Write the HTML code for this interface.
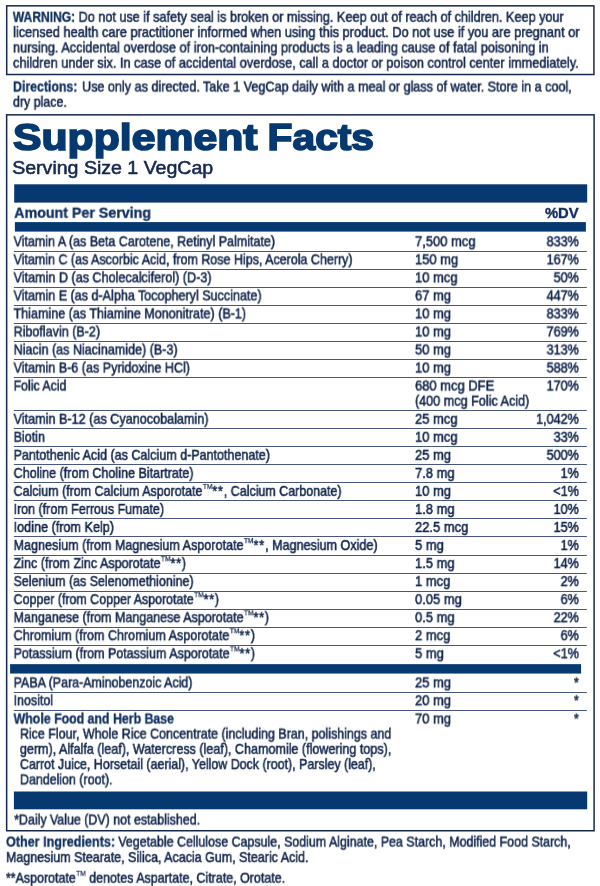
<!DOCTYPE html><html><head><meta charset='utf-8'><style>
html,body{margin:0;padding:0;background:#fff;}
body{width:600px;height:886px;position:relative;overflow:hidden;font-family:"Liberation Sans", sans-serif;color:#14284e;}
.l{position:absolute;white-space:nowrap;transform-origin:0 0;line-height:20px;will-change:transform;-webkit-text-stroke:0.55px currentColor;}
.l b{font-weight:700;}
.g{display:inline-block;width:0.3px;}
.a{letter-spacing:0.9px;}
.tm{-webkit-text-stroke:0.25px currentColor;font-size:7.6px;display:inline-block;vertical-align:top;line-height:12px;letter-spacing:0;margin-left:0.5px;}
.box{position:absolute;border:1.4px solid #14284e;box-sizing:border-box;}
.bar{position:absolute;background:#06396f;}
.rule{position:absolute;height:1px;background:#6b7ba0;left:14px;width:569px;}
</style></head><body><svg width="600" height="886" viewBox="0 0 600 886" style="position:absolute;left:0;top:0">
<rect x="6.7" y="5.85" width="587.20" height="68.65" fill="none" stroke="#14284e" stroke-width="1.5"/>
<rect x="6.65" y="114.85" width="587.45" height="715.90" fill="none" stroke="#14284e" stroke-width="1.5"/>
<rect x="14.2" y="184.3" width="573.00" height="18.30" fill="#06396f"/>
<rect x="14.9" y="222.1" width="571.00" height="9.50" fill="#06396f"/>
<rect x="10.1" y="664.15" width="571.00" height="9.40" fill="#06396f"/>
<rect x="13.9" y="791.5" width="573.30" height="17.80" fill="#06396f"/>
<rect x="13.9" y="251" width="572.9" height="1" fill="#47577f"/>
<rect x="13.9" y="269" width="572.9" height="1" fill="#47577f"/>
<rect x="13.9" y="287" width="572.9" height="1" fill="#47577f"/>
<rect x="13.9" y="305" width="572.9" height="1" fill="#47577f"/>
<rect x="13.9" y="323" width="572.9" height="1" fill="#47577f"/>
<rect x="13.9" y="341" width="572.9" height="1" fill="#47577f"/>
<rect x="13.9" y="359" width="572.9" height="1" fill="#47577f"/>
<rect x="13.9" y="377" width="572.9" height="1" fill="#47577f"/>
<rect x="13.9" y="410" width="572.9" height="1" fill="#47577f"/>
<rect x="13.9" y="428" width="572.9" height="1" fill="#47577f"/>
<rect x="13.9" y="446" width="572.9" height="1" fill="#47577f"/>
<rect x="13.9" y="464" width="572.9" height="1" fill="#47577f"/>
<rect x="13.9" y="482" width="572.9" height="1" fill="#47577f"/>
<rect x="13.9" y="500" width="572.9" height="1" fill="#47577f"/>
<rect x="13.9" y="518" width="572.9" height="1" fill="#47577f"/>
<rect x="13.9" y="536" width="572.9" height="1" fill="#47577f"/>
<rect x="13.9" y="555" width="572.9" height="1" fill="#47577f"/>
<rect x="13.9" y="573" width="572.9" height="1" fill="#47577f"/>
<rect x="13.9" y="591" width="572.9" height="1" fill="#47577f"/>
<rect x="13.9" y="609" width="572.9" height="1" fill="#47577f"/>
<rect x="13.9" y="627" width="572.9" height="1" fill="#47577f"/>
<rect x="13.9" y="645" width="572.9" height="1" fill="#47577f"/>
<rect x="13.9" y="692" width="572.9" height="1" fill="#47577f"/>
<rect x="13.9" y="710" width="572.9" height="1" fill="#47577f"/>
</svg>
<div class="l" style="font-size:14.4px;font-weight:700;color:#10305f;top:6px;left:12px;transform:translate(0.80px,0.81px) scaleX(0.8393);-webkit-text-stroke:0.35px #10305f;">WARNING:</div>
<div class="l" style="font-size:14.4px;font-weight:400;color:#14284e;top:6px;left:78px;transform:translate(0.50px,0.81px) scaleX(0.8804);">Do not use if safety seal is broken or missing. Keep out of reach of children. Keep your</div>
<div class="l" style="font-size:14.4px;font-weight:400;color:#14284e;top:22px;left:13px;transform:translate(0.00px,0.11px) scaleX(0.8897);">licensed health care practitioner informed when using this product. Do not use if you are pregnant or</div>
<div class="l" style="font-size:14.4px;font-weight:400;color:#14284e;top:37px;left:13px;transform:translate(0.00px,0.41px) scaleX(0.8858);">nursing. Accidental overdose of iron-containing products is a leading cause of fatal poisoning in</div>
<div class="l" style="font-size:14.4px;font-weight:400;color:#14284e;top:52px;left:13px;transform:translate(0.00px,0.71px) scaleX(0.8856);">children under six. In case of accidental overdose, call a doctor or poison control center immediately.</div>
<div class="l" style="font-size:14.4px;font-weight:700;color:#10305f;top:76px;left:13px;transform:translate(0.00px,0.51px) scaleX(0.8580);-webkit-text-stroke:0.35px #10305f;">Directions:</div>
<div class="l" style="font-size:14.4px;font-weight:400;color:#14284e;top:76px;left:82px;transform:translate(0.00px,0.51px) scaleX(0.8763);">Use only as directed. Take 1 VegCap daily with a meal or glass of water. Store in a cool,</div>
<div class="l" style="font-size:14.4px;font-weight:400;color:#14284e;top:91px;left:13px;transform:translate(0.00px,0.71px) scaleX(0.8607);">dry place.</div>
<div class="l" style="font-size:37.6px;font-weight:700;color:#06396f;top:127px;left:13px;transform:translate(0.00px,0.37px) scaleX(1.1370);-webkit-text-stroke:1.7px #06396f;">Supplement</div>
<div class="l" style="font-size:37.6px;font-weight:700;color:#06396f;top:127px;left:267px;transform:translate(0.60px,0.37px) scaleX(1.0838);-webkit-text-stroke:1.7px #06396f;">Facts</div>
<div class="l" style="font-size:18.3px;font-weight:400;color:#14284e;top:158px;left:12px;transform:translate(0.20px,0.46px) scaleX(1.0691);">Serving Size 1 VegCap</div>
<div class="l" style="font-size:14.4px;font-weight:700;color:#10305f;top:202px;left:14px;transform:translate(0.20px,0.71px) scaleX(0.9888);-webkit-text-stroke:0.35px #10305f;">Amount Per Serving</div>
<div class="l" style="font-size:14.4px;font-weight:700;color:#10305f;top:202px;left:544px;transform:translate(0.95px,0.71px) scaleX(1.0291);-webkit-text-stroke:0.35px #10305f;">%DV</div>
<div class="l" style="font-size:14.4px;font-weight:400;color:#14284e;top:231px;left:13px;transform:translate(0.60px,0.31px) scaleX(0.8676);">Vitamin A (as Beta Carotene, Retinyl Palmitate)</div>
<div class="l" style="font-size:14.4px;font-weight:400;color:#14284e;top:231px;left:415px;transform:translate(0.00px,0.31px) scaleX(0.9000);">7,500 mcg</div>
<div class="l" style="font-size:14.4px;font-weight:400;color:#14284e;top:231px;left:546px;transform:translate(0.59px,0.31px) scaleX(0.8750);">833%</div>
<div class="l" style="font-size:14.4px;font-weight:400;color:#14284e;top:249px;left:13px;transform:translate(0.60px,0.34px) scaleX(0.8672);">Vitamin C (as Ascorbic Acid, from Rose Hips, Acerola Cherry)</div>
<div class="l" style="font-size:14.4px;font-weight:400;color:#14284e;top:249px;left:415px;transform:translate(0.00px,0.34px) scaleX(0.9000);">150 mg</div>
<div class="l" style="font-size:14.4px;font-weight:400;color:#14284e;top:249px;left:546px;transform:translate(0.59px,0.34px) scaleX(0.8750);">167%</div>
<div class="l" style="font-size:14.4px;font-weight:400;color:#14284e;top:267px;left:13px;transform:translate(0.60px,0.37px) scaleX(0.8754);">Vitamin D (as Cholecalciferol) (D-3)</div>
<div class="l" style="font-size:14.4px;font-weight:400;color:#14284e;top:267px;left:415px;transform:translate(0.00px,0.37px) scaleX(0.9000);">10 mcg</div>
<div class="l" style="font-size:14.4px;font-weight:400;color:#14284e;top:267px;left:553px;transform:translate(0.59px,0.37px) scaleX(0.8750);">50%</div>
<div class="l" style="font-size:14.4px;font-weight:400;color:#14284e;top:285px;left:13px;transform:translate(0.60px,0.40px) scaleX(0.8722);">Vitamin E (as d-Alpha Tocopheryl Succinate)</div>
<div class="l" style="font-size:14.4px;font-weight:400;color:#14284e;top:285px;left:415px;transform:translate(0.00px,0.40px) scaleX(0.9000);">67 mg</div>
<div class="l" style="font-size:14.4px;font-weight:400;color:#14284e;top:285px;left:546px;transform:translate(0.59px,0.40px) scaleX(0.8750);">447%</div>
<div class="l" style="font-size:14.4px;font-weight:400;color:#14284e;top:303px;left:13px;transform:translate(0.60px,0.43px) scaleX(0.8709);">Thiamine (as Thiamine Mononitrate) (B-1)</div>
<div class="l" style="font-size:14.4px;font-weight:400;color:#14284e;top:303px;left:415px;transform:translate(0.00px,0.43px) scaleX(0.9000);">10 mg</div>
<div class="l" style="font-size:14.4px;font-weight:400;color:#14284e;top:303px;left:546px;transform:translate(0.59px,0.43px) scaleX(0.8750);">833%</div>
<div class="l" style="font-size:14.4px;font-weight:400;color:#14284e;top:321px;left:13px;transform:translate(0.60px,0.46px) scaleX(0.8712);">Riboflavin (B-2)</div>
<div class="l" style="font-size:14.4px;font-weight:400;color:#14284e;top:321px;left:415px;transform:translate(0.00px,0.46px) scaleX(0.9000);">10 mg</div>
<div class="l" style="font-size:14.4px;font-weight:400;color:#14284e;top:321px;left:546px;transform:translate(0.59px,0.46px) scaleX(0.8750);">769%</div>
<div class="l" style="font-size:14.4px;font-weight:400;color:#14284e;top:339px;left:13px;transform:translate(0.60px,0.49px) scaleX(0.8721);">Niacin (as Niacinamide) (B-3)</div>
<div class="l" style="font-size:14.4px;font-weight:400;color:#14284e;top:339px;left:415px;transform:translate(0.00px,0.49px) scaleX(0.9000);">50 mg</div>
<div class="l" style="font-size:14.4px;font-weight:400;color:#14284e;top:339px;left:546px;transform:translate(0.59px,0.49px) scaleX(0.8750);">313%</div>
<div class="l" style="font-size:14.4px;font-weight:400;color:#14284e;top:357px;left:13px;transform:translate(0.60px,0.52px) scaleX(0.8729);">Vitamin B-6 (as Pyridoxine HCl)</div>
<div class="l" style="font-size:14.4px;font-weight:400;color:#14284e;top:357px;left:415px;transform:translate(0.00px,0.52px) scaleX(0.9000);">10 mg</div>
<div class="l" style="font-size:14.4px;font-weight:400;color:#14284e;top:357px;left:546px;transform:translate(0.59px,0.52px) scaleX(0.8750);">588%</div>
<div class="l" style="font-size:14.4px;font-weight:400;color:#14284e;top:375px;left:13px;transform:translate(0.60px,0.55px) scaleX(0.8572);">Folic Acid</div>
<div class="l" style="font-size:14.4px;font-weight:400;color:#14284e;top:375px;left:415px;transform:translate(0.00px,0.55px) scaleX(0.9000);">680 mcg DFE</div>
<div class="l" style="font-size:14.4px;font-weight:400;color:#14284e;top:375px;left:546px;transform:translate(0.59px,0.55px) scaleX(0.8750);">170%</div>
<div class="l" style="font-size:14.4px;font-weight:400;color:#14284e;top:390px;left:415px;transform:translate(0.00px,0.75px) scaleX(0.8768);">(400 mcg Folic Acid)</div>
<div class="l" style="font-size:14.4px;font-weight:400;color:#14284e;top:408px;left:13px;transform:translate(0.60px,0.76px) scaleX(0.8776);">Vitamin B-12 (as Cyanocobalamin)</div>
<div class="l" style="font-size:14.4px;font-weight:400;color:#14284e;top:408px;left:415px;transform:translate(0.00px,0.76px) scaleX(0.9000);">25 mcg</div>
<div class="l" style="font-size:14.4px;font-weight:400;color:#14284e;top:408px;left:536px;transform:translate(0.09px,0.76px) scaleX(0.8750);">1,042%</div>
<div class="l" style="font-size:14.4px;font-weight:400;color:#14284e;top:426px;left:13px;transform:translate(0.60px,0.80px) scaleX(0.8722);">Biotin</div>
<div class="l" style="font-size:14.4px;font-weight:400;color:#14284e;top:426px;left:415px;transform:translate(0.00px,0.80px) scaleX(0.9000);">10 mcg</div>
<div class="l" style="font-size:14.4px;font-weight:400;color:#14284e;top:426px;left:553px;transform:translate(0.59px,0.80px) scaleX(0.8750);">33%</div>
<div class="l" style="font-size:14.4px;font-weight:400;color:#14284e;top:444px;left:13px;transform:translate(0.60px,0.84px) scaleX(0.8710);">Pantothenic Acid (as Calcium d-Pantothenate)</div>
<div class="l" style="font-size:14.4px;font-weight:400;color:#14284e;top:444px;left:415px;transform:translate(0.00px,0.84px) scaleX(0.9000);">25 mg</div>
<div class="l" style="font-size:14.4px;font-weight:400;color:#14284e;top:444px;left:546px;transform:translate(0.59px,0.84px) scaleX(0.8750);">500%</div>
<div class="l" style="font-size:14.4px;font-weight:400;color:#14284e;top:462px;left:13px;transform:translate(0.60px,0.88px) scaleX(0.8718);">Choline (from Choline Bitartrate)</div>
<div class="l" style="font-size:14.4px;font-weight:400;color:#14284e;top:462px;left:415px;transform:translate(0.00px,0.88px) scaleX(0.9000);">7.8 mg</div>
<div class="l" style="font-size:14.4px;font-weight:400;color:#14284e;top:462px;left:560px;transform:translate(0.59px,0.88px) scaleX(0.8750);">1%</div>
<div class="l" style="font-size:14.4px;font-weight:400;color:#14284e;top:480px;left:13px;transform:translate(0.60px,0.92px) scaleX(0.8650);">Calcium (from Calcium Asporotate<span class="tm">TM</span><span class="a">**</span><span class="g"></span>, Calcium Carbonate)</div>
<div class="l" style="font-size:14.4px;font-weight:400;color:#14284e;top:480px;left:415px;transform:translate(0.00px,0.92px) scaleX(0.9000);">10 mg</div>
<div class="l" style="font-size:14.4px;font-weight:400;color:#14284e;top:480px;left:553px;transform:translate(0.25px,0.92px) scaleX(0.8750);">&lt;1%</div>
<div class="l" style="font-size:14.4px;font-weight:400;color:#14284e;top:498px;left:13px;transform:translate(0.60px,0.96px) scaleX(0.8667);">Iron (from Ferrous Fumate)</div>
<div class="l" style="font-size:14.4px;font-weight:400;color:#14284e;top:498px;left:415px;transform:translate(0.00px,0.96px) scaleX(0.9000);">1.8 mg</div>
<div class="l" style="font-size:14.4px;font-weight:400;color:#14284e;top:498px;left:553px;transform:translate(0.59px,0.96px) scaleX(0.8750);">10%</div>
<div class="l" style="font-size:14.4px;font-weight:400;color:#14284e;top:517px;left:13px;transform:translate(0.60px,0.00px) scaleX(0.8778);">Iodine (from Kelp)</div>
<div class="l" style="font-size:14.4px;font-weight:400;color:#14284e;top:517px;left:415px;transform:translate(0.00px,0.00px) scaleX(0.9000);">22.5 mcg</div>
<div class="l" style="font-size:14.4px;font-weight:400;color:#14284e;top:517px;left:553px;transform:translate(0.59px,0.00px) scaleX(0.8750);">15%</div>
<div class="l" style="font-size:14.4px;font-weight:400;color:#14284e;top:535px;left:13px;transform:translate(0.60px,0.04px) scaleX(0.8733);">Magnesium (from Magnesium Asporotate<span class="tm">TM</span><span class="a">**</span><span class="g"></span>, Magnesium Oxide)</div>
<div class="l" style="font-size:14.4px;font-weight:400;color:#14284e;top:535px;left:415px;transform:translate(0.00px,0.04px) scaleX(0.9000);">5 mg</div>
<div class="l" style="font-size:14.4px;font-weight:400;color:#14284e;top:535px;left:560px;transform:translate(0.59px,0.04px) scaleX(0.8750);">1%</div>
<div class="l" style="font-size:14.4px;font-weight:400;color:#14284e;top:553px;left:13px;transform:translate(0.60px,0.08px) scaleX(0.8706);">Zinc (from Zinc Asporotate<span class="tm">TM</span><span class="a">**</span>)</div>
<div class="l" style="font-size:14.4px;font-weight:400;color:#14284e;top:553px;left:415px;transform:translate(0.00px,0.08px) scaleX(0.9000);">1.5 mg</div>
<div class="l" style="font-size:14.4px;font-weight:400;color:#14284e;top:553px;left:553px;transform:translate(0.59px,0.08px) scaleX(0.8750);">14%</div>
<div class="l" style="font-size:14.4px;font-weight:400;color:#14284e;top:571px;left:13px;transform:translate(0.60px,0.12px) scaleX(0.8650);">Selenium (as Selenomethionine)</div>
<div class="l" style="font-size:14.4px;font-weight:400;color:#14284e;top:571px;left:415px;transform:translate(0.00px,0.12px) scaleX(0.9000);">1 mcg</div>
<div class="l" style="font-size:14.4px;font-weight:400;color:#14284e;top:571px;left:560px;transform:translate(0.59px,0.12px) scaleX(0.8750);">2%</div>
<div class="l" style="font-size:14.4px;font-weight:400;color:#14284e;top:589px;left:13px;transform:translate(0.60px,0.16px) scaleX(0.8628);">Copper (from Copper Asporotate<span class="tm">TM</span><span class="a">**</span>)</div>
<div class="l" style="font-size:14.4px;font-weight:400;color:#14284e;top:589px;left:415px;transform:translate(0.00px,0.16px) scaleX(0.9000);">0.05 mg</div>
<div class="l" style="font-size:14.4px;font-weight:400;color:#14284e;top:589px;left:560px;transform:translate(0.59px,0.16px) scaleX(0.8750);">6%</div>
<div class="l" style="font-size:14.4px;font-weight:400;color:#14284e;top:607px;left:13px;transform:translate(0.60px,0.20px) scaleX(0.8685);">Manganese (from Manganese Asporotate<span class="tm">TM</span><span class="a">**</span>)</div>
<div class="l" style="font-size:14.4px;font-weight:400;color:#14284e;top:607px;left:415px;transform:translate(0.00px,0.20px) scaleX(0.9000);">0.5 mg</div>
<div class="l" style="font-size:14.4px;font-weight:400;color:#14284e;top:607px;left:553px;transform:translate(0.59px,0.20px) scaleX(0.8750);">22%</div>
<div class="l" style="font-size:14.4px;font-weight:400;color:#14284e;top:625px;left:13px;transform:translate(0.60px,0.24px) scaleX(0.8734);">Chromium (from Chromium Asporotate<span class="tm">TM</span><span class="a">**</span>)</div>
<div class="l" style="font-size:14.4px;font-weight:400;color:#14284e;top:625px;left:415px;transform:translate(0.00px,0.24px) scaleX(0.9000);">2 mcg</div>
<div class="l" style="font-size:14.4px;font-weight:400;color:#14284e;top:625px;left:560px;transform:translate(0.59px,0.24px) scaleX(0.8750);">6%</div>
<div class="l" style="font-size:14.4px;font-weight:400;color:#14284e;top:643px;left:13px;transform:translate(0.60px,0.28px) scaleX(0.8682);">Potassium (from Potassium Asporotate<span class="tm">TM</span><span class="a">**</span>)</div>
<div class="l" style="font-size:14.4px;font-weight:400;color:#14284e;top:643px;left:415px;transform:translate(0.00px,0.28px) scaleX(0.9000);">5 mg</div>
<div class="l" style="font-size:14.4px;font-weight:400;color:#14284e;top:643px;left:553px;transform:translate(0.25px,0.28px) scaleX(0.8750);">&lt;1%</div>
<div class="l" style="font-size:14.4px;font-weight:400;color:#14284e;top:672px;left:13px;transform:translate(0.60px,0.41px) scaleX(0.8646);">PABA (Para-Aminobenzoic Acid)</div>
<div class="l" style="font-size:14.4px;font-weight:400;color:#14284e;top:672px;left:415px;transform:translate(0.00px,0.41px) scaleX(0.9000);">25 mg</div>
<div class="l" style="font-size:14.4px;font-weight:400;color:#14284e;top:672px;left:573px;transform:translate(0.89px,0.41px) scaleX(0.8750);">*</div>
<div class="l" style="font-size:14.4px;font-weight:400;color:#14284e;top:690px;left:13px;transform:translate(0.60px,0.31px) scaleX(0.8639);">Inositol</div>
<div class="l" style="font-size:14.4px;font-weight:400;color:#14284e;top:690px;left:415px;transform:translate(0.00px,0.31px) scaleX(0.9000);">20 mg</div>
<div class="l" style="font-size:14.4px;font-weight:400;color:#14284e;top:690px;left:573px;transform:translate(0.89px,0.31px) scaleX(0.8750);">*</div>
<div class="l" style="font-size:14.4px;font-weight:700;color:#10305f;top:708px;left:13px;transform:translate(0.60px,0.51px) scaleX(0.8573);-webkit-text-stroke:0.35px #10305f;">Whole Food and Herb Base</div>
<div class="l" style="font-size:14.4px;font-weight:400;color:#14284e;top:708px;left:415px;transform:translate(0.00px,0.51px) scaleX(0.9000);">70 mg</div>
<div class="l" style="font-size:14.4px;font-weight:400;color:#14284e;top:708px;left:573px;transform:translate(0.89px,0.51px) scaleX(0.8750);">*</div>
<div class="l" style="font-size:14.4px;font-weight:400;color:#14284e;top:723px;left:19px;transform:translate(0.90px,0.61px) scaleX(0.8662);">Rice Flour, Whole Rice Concentrate (including Bran, polishings and</div>
<div class="l" style="font-size:14.4px;font-weight:400;color:#14284e;top:738px;left:19px;transform:translate(0.90px,0.86px) scaleX(0.8722);">germ), Alfalfa (leaf), Watercress (leaf), Chamomile (flowering tops),</div>
<div class="l" style="font-size:14.4px;font-weight:400;color:#14284e;top:754px;left:19px;transform:translate(0.90px,0.11px) scaleX(0.8641);">Carrot Juice, Horsetail (aerial), Yellow Dock (root), Parsley (leaf),</div>
<div class="l" style="font-size:14.4px;font-weight:400;color:#14284e;top:769px;left:19px;transform:translate(0.90px,0.41px) scaleX(0.8639);">Dandelion (root).</div>
<div class="l" style="font-size:14.4px;font-weight:400;color:#14284e;top:809px;left:14px;transform:translate(0.20px,0.51px) scaleX(0.8614);">*Daily Value (DV) not established.</div>
<div class="l" style="font-size:14.4px;font-weight:700;color:#10305f;top:831px;left:6px;transform:translate(0.00px,0.61px) scaleX(0.8739);-webkit-text-stroke:0.35px #10305f;">Other Ingredients:</div>
<div class="l" style="font-size:14.4px;font-weight:400;color:#14284e;top:831px;left:118px;transform:translate(0.30px,0.61px) scaleX(0.8634);">Vegetable Cellulose Capsule, Sodium Alginate, Pea Starch, Modified Food Starch,</div>
<div class="l" style="font-size:14.4px;font-weight:400;color:#14284e;top:847px;left:6px;transform:translate(0.00px,0.11px) scaleX(0.8674);">Magnesium Stearate, Silica, Acacia Gum, Stearic Acid.</div>
<div class="l" style="font-size:14.4px;font-weight:400;color:#14284e;top:867px;left:5px;transform:translate(0.90px,0.71px) scaleX(0.8650);">**Asporotate<span class="tm">TM</span> denotes Aspartate, Citrate, Orotate.</div>
</body></html>
